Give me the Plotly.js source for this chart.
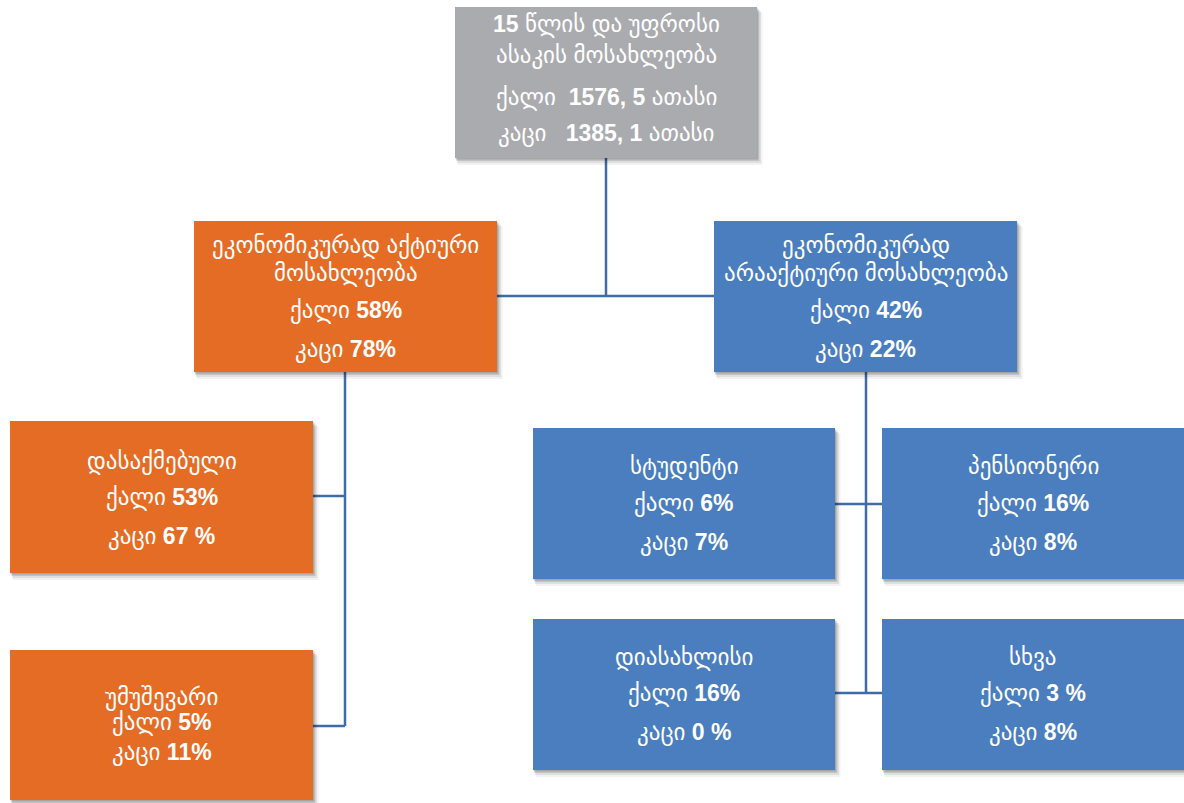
<!DOCTYPE html>
<html>
<head>
<meta charset="utf-8">
<script src="https://cdn.plot.ly/plotly-3.0.1.min.js"></script>
<style>html,body{margin:0;padding:0;background:#fff;}#chart{width:1184px;height:803px;}</style>
</head>
<body>
<div id="chart"></div>
<script>
// ---- data ----
const nodeTitles = [
  ['15 წლის და უფროსი', 'ასაკის მოსახლეობა'],
  ['ეკონომიკურად აქტიური', 'მოსახლეობა'],
  ['ეკონომიკურად', 'არააქტიური მოსახლეობა'],
  ['დასაქმებული'],
  ['უმუშევარი'],
  ['სტუდენტი'],
  ['პენსიონერი'],
  ['დიასახლისი'],
  ['სხვა']
];
const womenLabel = 'ქალი';
const menLabel = 'კაცი';
const womenValues = ['1576, 5', '58%', '42%', '53%', '5%', '6%', '16%', '16%', '3 %'];
const menValues   = ['1385, 1', '78%', '22%', '67 %', '11%', '7%', '8%', '0 %', '8%'];
const unitSuffix  = ['ათასი', '', '', '', '', '', '', '', ''];
const nodeGroup   = ['total', 'active', 'inactive', 'active', 'active', 'inactive', 'inactive', 'inactive', 'inactive'];

// ---- layout geometry (pixels) ----
const boxes = [
  {x0:455, x1:757, y0:7,   y1:158, lines:[24, 55, 97, 133]},
  {x0:194, x1:497, y0:221, y1:372, lines:[245, 273, 310, 349]},
  {x0:714, x1:1017,y0:221, y1:372, lines:[245, 273, 310, 349]},
  {x0:10,  x1:313, y0:421, y1:573, lines:[461, 497, 536]},
  {x0:10,  x1:313, y0:650, y1:800, lines:[697, 722, 752]},
  {x0:533, x1:835, y0:428, y1:579, lines:[466, 503, 542]},
  {x0:882, x1:1184,y0:428, y1:579, lines:[466, 503, 542]},
  {x0:533, x1:835, y0:619, y1:770, lines:[657, 693, 732]},
  {x0:882, x1:1184,y0:619, y1:770, lines:[657, 693, 732]}
];
const connectors = [
  [[606,158],[606,296]],
  [[497,296],[714,296]],
  [[345,372],[345,726]],
  [[313,496],[345,496]],
  [[313,726],[345,726]],
  [[866,372],[866,693]],
  [[835,504],[882,504]],
  [[835,693],[882,693]]
];
const groupColor = {total:'#AAABAF', active:'#E46C25', inactive:'#4A7EBE'};
const lineColor = '#3F6CA6';
const FONT = '"Liberation Sans", "DejaVu Sans", Arial, sans-serif';
const NUM = s => '<b><span style="font-size:23px">' + s + '</span></b>';

const shapes = [];
const annotations = [];

connectors.forEach(c => {
  shapes.push({type:'line', xref:'x', yref:'y', x0:c[0][0], y0:c[0][1], x1:c[1][0], y1:c[1][1],
    line:{color:lineColor, width:2.5}, layer:'below'});
});

boxes.forEach((b, i) => {
  [[7,0.05],[5,0.08],[3,0.12],[1.5,0.15]].forEach(s => {
    shapes.push({type:'rect', xref:'x', yref:'y', x0:b.x0+s[0]*0.4, x1:b.x1+s[0]*0.8, y0:b.y0+s[0]*0.8, y1:b.y1+s[0],
      fillcolor:'rgba(0,0,0,' + s[1] + ')', line:{width:0}, layer:'above'});
  });
  shapes.push({type:'rect', xref:'x', yref:'y', x0:b.x0, x1:b.x1, y0:b.y0, y1:b.y1,
    fillcolor:groupColor[nodeGroup[i]], line:{width:0}, layer:'above'});

  const texts = nodeTitles[i].map(t => t.replace(/^(\d+)/, m => NUM(m)));
  const suf = unitSuffix[i] ? ' ' + unitSuffix[i] : '';
  const gapW = i === 0 ? '&nbsp; ' : ' ';
  const gapM = i === 0 ? '&nbsp;&nbsp; ' : ' ';
  texts.push(womenLabel + gapW + NUM(womenValues[i]) + suf);
  texts.push(menLabel + gapM + NUM(menValues[i]) + suf);
  texts.forEach((t, j) => {
    annotations.push({xref:'x', yref:'y', x:(b.x0+b.x1)/2, y:b.lines[j], text:t,
      showarrow:false, xanchor:'center', yanchor:'middle',
      font:{family:FONT, size:23, color:'#FFFFFF'}});
  });
});

const layout = {
  width:1184, height:803,
  margin:{l:0, r:0, t:0, b:0},
  paper_bgcolor:'#FFFFFF', plot_bgcolor:'#FFFFFF',
  xaxis:{range:[0,1184], visible:false, fixedrange:true},
  yaxis:{range:[803,0], visible:false, fixedrange:true},
  shapes:shapes, annotations:annotations, showlegend:false
};

Plotly.newPlot('chart', [{x:[], y:[], type:'scatter', mode:'markers', hoverinfo:'skip'}], layout, {displayModeBar:false, staticPlot:true});
</script>
</body>
</html>
